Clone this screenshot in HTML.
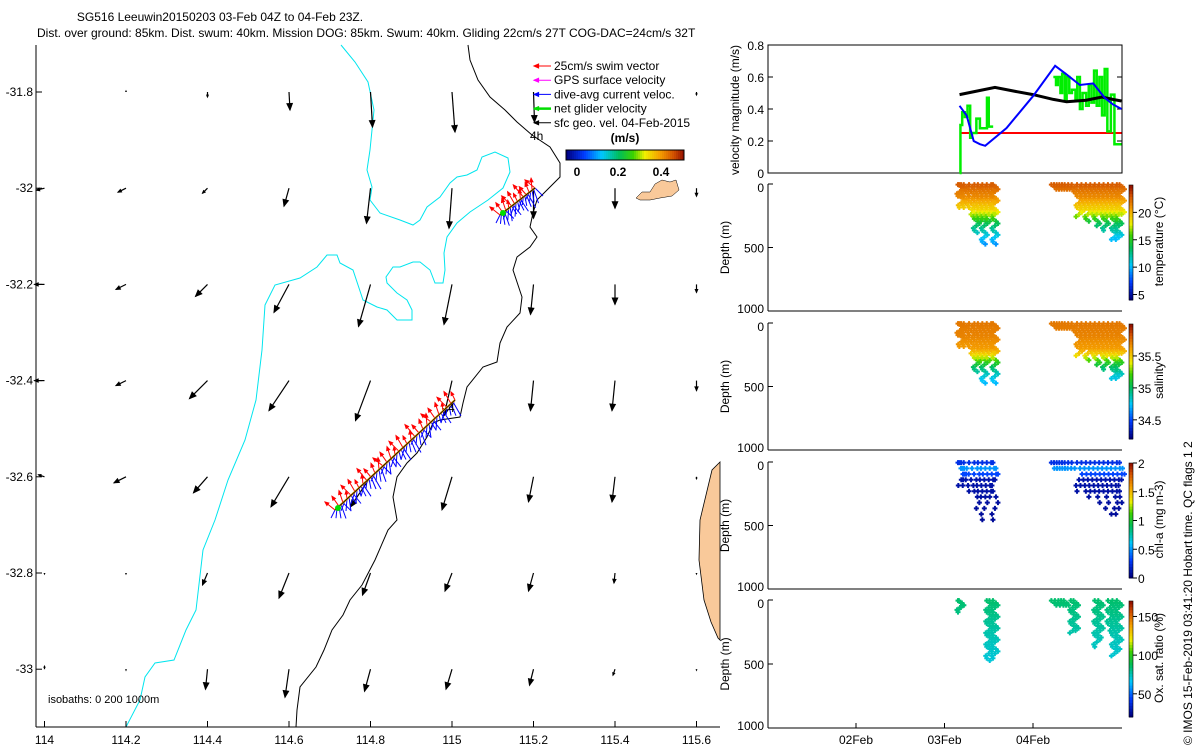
<!DOCTYPE html>
<html><head><meta charset="utf-8"><style>
body{margin:0;background:#fff}
svg{display:block;font-family:"Liberation Sans",sans-serif}
</style></head><body>
<svg id="s" width="1200" height="750" viewBox="0 0 1200 750" xmlns="http://www.w3.org/2000/svg">
<rect width="1200" height="750" fill="#fff"/>
<text x="220" y="21" font-size="12" text-anchor="middle">SG516 Leeuwin20150203 03-Feb 04Z to 04-Feb 23Z.</text>
<text x="37" y="37" font-size="12">Dist. over ground: 85km. Dist. swum: 40km. Mission DOG: 85km. Swum: 40km. Gliding 22cm/s 27T COG-DAC=24cm/s 32T</text>
<g id="map"></g>
<g id="right"></g>
<text transform="translate(1192,745) rotate(-90)" font-size="12">© IMOS 15-Feb-2019 03:41:20 Hobart time. QC flags 1   2</text>
</svg>
<script>
// ---------- data ----------
const lonTicks=[114,114.2,114.4,114.6,114.8,115,115.2,115.4,115.6];
const latTicks=[-31.8,-32,-32.2,-32.4,-32.6,-32.8,-33];
const geoU=[
[0,0,0,1,2,3,1,0,0],
[-8,-8,-5,-5,-4,-3,0,0,0],
[-10,-10,-12,-15,-12,-8,-3,0,0],
[-10,-10,-18,-20,-15,-8,-3,-3,0],
[-6,-12,-14,-18,-20,-10,-5,-3,0],
[0,0,-5,-10,-8,-7,-5,-1,0],
[0,0,-2,-4,-6,-6,-4,-2,0]];
const geoV=[
[0,-1,5,18,35,40,30,0,3],
[2,4,5,18,35,40,30,20,8],
[0,5,12,28,42,40,30,20,8],
[0,5,18,30,40,35,30,30,10],
[-2,6,16,30,30,33,25,25,2],
[1,1,12,25,22,18,18,10,1],
[-3,1,20,28,22,20,16,6,1]];
const cyanLine=[[341,45],[355,62],[368,82],[374,110],[370,150],[367,170],[372,187],[370,200],[380,213],[400,220],[413,225],[420,220],[427,207],[440,197],[450,183],[457,177],[467,175],[477,170],[482,157],[495,152],[508,158],[510,172],[503,188],[488,200],[470,212],[457,223],[447,237],[444,253],[445,270],[443,283],[435,283],[430,270],[420,262],[413,262],[400,267],[393,267],[386,277],[387,283],[397,293],[407,300],[412,310],[412,320],[397,320],[387,310],[377,307],[363,300],[353,270],[340,263],[337,255],[327,255],[317,267],[300,278],[275,285],[265,305],[262,350],[256,400],[245,440],[228,480],[215,520],[203,550],[196,610],[186,630],[174,660],[155,663],[145,677],[140,700],[126,727]];
const blackLine=[[468,45],[470,60],[478,80],[490,97],[505,110],[517,122],[532,135],[550,147],[560,163],[560,177],[547,190],[537,200],[533,213],[530,227],[537,237],[530,247],[517,257],[513,270],[522,297],[520,313],[507,327],[500,343],[497,362],[483,367],[467,387],[463,403],[460,417],[440,420],[433,423],[427,437],[417,453],[407,463],[397,477],[393,497],[397,520],[388,530],[375,560],[362,585],[350,600],[343,615],[332,630],[324,650],[316,667],[300,687],[297,710],[296,727]];
const landRight=[[720,462],[712,470],[706,495],[700,520],[699,560],[704,600],[711,622],[718,638],[720,640]];
const island=[[636,198],[642,192],[650,192],[655,184],[662,180],[670,182],[676,180],[679,190],[672,196],[660,198],[650,200],[640,200]];
const track1=[[500,215],[535,188]];
const track2=[[335,510],[455,400]];
const blkT=[1.17,1.35,1.57,1.8,2.0,2.23,2.38,2.6,2.78,2.9,3.0];
const blkV=[0.49,0.51,0.535,0.51,0.49,0.46,0.445,0.455,0.475,0.46,0.45];
const bluT=[1.17,1.25,1.33,1.40,1.46,1.7,2.0,2.25,2.37,2.53,2.68,2.81,2.9,3.0];
const bluV=[0.42,0.36,0.2,0.18,0.17,0.28,0.48,0.67,0.62,0.55,0.56,0.47,0.43,0.40];
const redT=[1.17,3.0];
const redV=[0.25,0.25];
const grnT1=[1.17,1.18,1.2,1.23,1.26,1.29,1.31,1.36,1.40,1.48,1.50,1.55];
const grnV1=[0,0.3,0.38,0.35,0.42,0.22,0.25,0.34,0.28,0.47,0.29,0.29];
const grnT2=[2.23,2.26,2.28,2.31,2.33,2.36,2.38,2.41,2.44,2.48,2.50,2.53,2.56,2.60,2.63,2.66,2.69,2.72,2.75,2.78,2.81,2.84,2.88,2.92,2.96,3.0];
const grnV2=[0.6,0.55,0.6,0.5,0.62,0.46,0.6,0.5,0.52,0.46,0.6,0.4,0.5,0.42,0.55,0.44,0.64,0.42,0.6,0.36,0.65,0.26,0.49,0.18,0.18,0.18];
const diveT=[1.175,1.19,1.21,1.24,1.30,1.36,1.40,1.45,1.50,1.55,1.57,2.23,2.26,2.29,2.32,2.35,2.38,2.42,2.46,2.52,2.57,2.62,2.67,2.72,2.77,2.82,2.87,2.92,2.97,3.0];
const diveD=[100,200,150,200,250,400,300,480,300,250,480,50,50,50,50,50,50,50,60,270,220,300,250,330,250,380,260,450,440,250];
const profZ=[0,100,200,250,300,350,400,480];
const tempP=[23,21.5,19,17,14,12.5,11,9];
const salP=[35.75,35.72,35.65,35.5,35.2,35.0,34.85,34.7];
const chlZ=[0,40,80,120,500];
const chlP=[0.2,0.5,0.45,0.1,0.05];
const oxyZ=[0,100,300,480];
const oxyP=[85,82,75,70];
const oxyDiveT=[1.175,1.185,1.50,1.53,1.57,2.23,2.27,2.31,2.34,2.37,2.45,2.48,2.72,2.76,2.87,2.92,2.97];
const oxyDiveD=[100,80,480,400,470,50,50,50,50,50,270,250,380,300,250,450,400];

// ---------- helpers ----------
const NS="http://www.w3.org/2000/svg";
function mk(tag,attrs,parent){const e=document.createElementNS(NS,tag);for(const k in attrs)e.setAttribute(k,attrs[k]);parent.appendChild(e);return e;}
const CM=[[0,[0,0,128]],[0.15,[0,60,255]],[0.3,[0,200,255]],[0.45,[0,190,90]],[0.57,[60,210,0]],[0.67,[240,240,0]],[0.8,[245,160,0]],[0.92,[210,80,0]],[1,[150,20,0]]];
function jet(f){f=Math.max(0,Math.min(1,f));for(let i=1;i<CM.length;i++){if(f<=CM[i][0]){const a=CM[i-1],b=CM[i],t=(f-a[0])/(b[0]-a[0]);const c=a[1].map((v,k)=>Math.round(v+(b[1][k]-v)*t));return `rgb(${c})`;}}return 'rgb(150,20,0)';}
function interp(xs,ys,x){if(x<=xs[0])return ys[0];for(let i=1;i<xs.length;i++){if(x<=xs[i]){const f=(x-xs[i-1])/(xs[i]-xs[i-1]);return ys[i-1]+f*(ys[i]-ys[i-1]);}}return ys[ys.length-1];}
const pts=a=>a.map(p=>p.join(',')).join(' ');

// ---------- map ----------
const map=document.getElementById('map');
const X=lon=>44.5+(lon-114)*407.5;
const Y=lat=>92+(-31.8-lat)*481;
let e;
e=mk('polygon',{points:pts(landRight),fill:'#f9c99a',stroke:'#000','stroke-width':0.8},map);


e=mk('polygon',{points:pts(island),fill:'#f9c99a',stroke:'#000','stroke-width':0.5},map);


e=mk('polyline',{points:pts(cyanLine),fill:'none',stroke:'#00e5ee','stroke-width':1},map);


e=mk('polyline',{points:pts(blackLine),fill:'none',stroke:'#000','stroke-width':1},map);


mk('line',{x1:36,y1:45,x2:36,y2:727,stroke:'#000'},map);
mk('line',{x1:36,y1:727,x2:720,y2:727,stroke:'#000'},map);
lonTicks.forEach(l=>{mk('line',{x1:X(l),y1:727,x2:X(l),y2:721,stroke:'#000'},map);
 e=mk('text',{x:X(l),y:744,'font-size':12,'text-anchor':'middle'},map);e.textContent=l;
 
 });
latTicks.forEach(l=>{mk('line',{x1:36,y1:Y(l),x2:42,y2:Y(l),stroke:'#000'},map);
 e=mk('text',{x:33,y:Y(l)+4,'font-size':12,'text-anchor':'end'},map);e.textContent=l;
 
 });
function arrow(x1,y1,x2,y2,col,w,hs,parent){mk('line',{x1,y1,x2,y2,stroke:col,'stroke-width':w},parent);
 const a=Math.atan2(y2-y1,x2-x1),L=Math.hypot(x2-x1,y2-y1);if(L<1)return;const h=Math.min(hs,L*0.4);
 mk('polygon',{points:`${x2},${y2} ${x2-h*Math.cos(a-0.4)},${y2-h*Math.sin(a-0.4)} ${x2-h*Math.cos(a+0.4)},${y2-h*Math.sin(a+0.4)}`,fill:col,stroke:col},parent);}
latTicks.forEach((la,i)=>lonTicks.forEach((lo,j)=>{
 const g=mk('g',{},map);
 
 
 arrow(X(lo),Y(la),X(lo)+geoU[i][j],Y(la)+geoV[i][j],'#000',1.2,7,g);}));
function trackGroup(tr,n){const g=mk('g',{},map);
 
 
 const [a,b]=tr;
 for(let k=0;k<=n*2;k++){const f=k/(n*2),x=a[0]+(b[0]-a[0])*f,y=a[1]+(b[1]-a[1])*f;
  mk('line',{x1:x,y1:y,x2:x-4+(k%5)*3,y2:y+8+(k%4)*2,stroke:'#0000ff','stroke-width':1},g);}
 for(let k=0;k<=n;k++){const f=k/n,x=a[0]+(b[0]-a[0])*f,y=a[1]+(b[1]-a[1])*f;
  arrow(x,y,x-10+(k%4)*3,y-8-(k%3)*2,'#ff0000',1,4,g);}
 mk('line',{x1:a[0],y1:a[1],x2:b[0],y2:b[1],stroke:'#f0a000','stroke-width':2},g);
 mk('line',{x1:a[0],y1:a[1],x2:b[0],y2:b[1],stroke:'#000','stroke-width':0.8},g);
 mk('circle',{cx:a[0]+3,cy:a[1]-2,r:3,fill:'#00dd00'},g);}
trackGroup(track1,12);trackGroup(track2,30);
e=mk('text',{x:448,y:412,'font-size':12},map);e.textContent='4';
e=mk('text',{x:530,y:140,'font-size':12},map);e.textContent='4h';
e=mk('text',{x:48,y:703,'font-size':11},map);e.textContent='isobaths: 0   200  1000m';


const legCols=['#ff0000','#ff00ff','#0000ff','#00dd00','#000'];
const legTxt=['25cm/s swim vector','GPS surface velocity','dive-avg current veloc.','net glider velocity','sfc geo. vel. 04-Feb-2015'];
legTxt.forEach((t,i)=>{const g=mk('g',{},map);
 
 
 const y=66+i*14.2;arrow(551,y,534,y,legCols[i],i==3?2.5:1,5,g);
 e=mk('text',{x:554,y:y+4,'font-size':12},g);e.textContent=t;});
const cb=mk('g',{},map);


for(let i=0;i<59;i++)mk('rect',{x:566+i*2,y:150,width:2.2,height:10,fill:jet(i/58)},cb);
mk('rect',{x:566,y:150,width:118,height:10,fill:'none',stroke:'#000'},cb);
e=mk('text',{x:625,y:142,'font-size':12,'font-weight':'bold','text-anchor':'middle'},cb);e.textContent='(m/s)';
[[0,577],[0.2,618],[0.4,661]].forEach(([v,x])=>{e=mk('text',{x,y:176,'font-size':12,'font-weight':'bold','text-anchor':'middle'},cb);e.textContent=v;});

// ---------- right panels ----------
const R=document.getElementById('right');
const TX=t=>856+t*88.5;
const L=768,Rr=1122;
const vp={top:45,bot:173};
const VY=v=>vp.bot-v/0.8*(vp.bot-vp.top);
mk('rect',{x:L,y:vp.top,width:Rr-L,height:vp.bot-vp.top,fill:'none',stroke:'#000'},R);
[0,0.2,0.4,0.6,0.8].forEach(v=>{mk('line',{x1:L,y1:VY(v),x2:L+5,y2:VY(v),stroke:'#000'},R);mk('line',{x1:Rr,y1:VY(v),x2:Rr-5,y2:VY(v),stroke:'#000'},R);
 e=mk('text',{x:764,y:VY(v)+5,'font-size':12,'text-anchor':'end'},R);e.textContent=v;});
e=mk('text',{transform:'translate(739,110) rotate(-90)','font-size':12,'text-anchor':'middle'},R);e.textContent='velocity magnitude (m/s)';


function line(T,V,col,w,name,step){let p=[];T.forEach((t,i)=>{if(step&&i>0)p.push([TX(t),VY(V[i-1])]);p.push([TX(t),VY(V[i])]);});
 const el=mk('polyline',{points:pts(p),fill:'none',stroke:col,'stroke-width':w},R);
 
 }
line(redT,redV,'#ff0000',2,'swim-speed-line');
line(grnT1,grnV1,'#00ee00',2.5,'glider-speed-line',true);
line(grnT2,grnV2,'#00ee00',2.5,'glider-speed-line',true);
line(blkT,blkV,'#000',3,'geo-speed-line');
line(bluT,bluV,'#0000ff',2,'current-speed-line');
const panels=[
 {top:184,bot:311,name:'temperature-panel',label:'temperature (°C)',vmin:4,vmax:25,ticks:[5,10,15,20],dT:diveT,dD:diveD,z:profZ,p:tempP,step:18},
 {top:323,bot:450,name:'salinity-panel',label:'salinity',vmin:34.2,vmax:36,ticks:[34.5,35,35.5],dT:diveT,dD:diveD,z:profZ,p:salP,step:18},
 {top:462,bot:589,name:'chlorophyll-panel',label:'chl-a (mg m-3)',vmin:0,vmax:2,ticks:[0,0.5,1,1.5,2],dT:diveT,dD:diveD,z:chlZ,p:chlP,step:45},
 {top:600,bot:728,name:'oxygen-panel',label:'Ox. sat. ratio (%)',vmin:20,vmax:170,ticks:[50,100,150],dT:oxyDiveT,dD:oxyDiveD,z:oxyZ,p:oxyP,step:18}];
panels.forEach((P,pi)=>{const g=mk('g',{},R);
 
 
 const DY=d=>P.top+d/1000*(P.bot-P.top);
 mk('line',{x1:L,y1:P.top,x2:L,y2:P.bot,stroke:'#000'},g);
 mk('line',{x1:L,y1:P.bot,x2:Rr,y2:P.bot,stroke:'#000'},g);
 [0,500,1000].forEach(d=>{mk('line',{x1:L,y1:DY(d),x2:L+5,y2:DY(d),stroke:'#000'},g);
  e=mk('text',{x:764,y:DY(d)+(d==0?8:d==1000?2:5),'font-size':12,'text-anchor':'end'},g);e.textContent=d;});
 e=mk('text',{transform:`translate(729,${(P.top+P.bot)/2}) rotate(-90)`,'font-size':12,'text-anchor':'middle'},g);e.textContent='Depth (m)';
 P.dT.forEach((t,i)=>{let k=0;for(let d=5;d<=P.dD[i];d+=P.step,k++){const v=interp(P.z,P.p,d);const c=jet((v-P.vmin)/(P.vmax-P.vmin));
  const x=TX(t)+[-2,1,3,0,-3][k%5],y=DY(d);
  mk('path',{d:`M${x-2.5},${y}h5M${x},${y-2.5}v5`,stroke:c,'stroke-width':2},g);}});
 const cb=mk('g',{},g);
 
 
 const ct=P.top+1,cbH=(P.bot-P.top)-12;
 for(let i=0;i<40;i++)mk('rect',{x:1129,y:ct+cbH-(i+1)*cbH/40,width:4,height:cbH/40+0.5,fill:jet(i/39)},cb);
 mk('rect',{x:1129,y:ct,width:4,height:cbH,fill:'none',stroke:'#000','stroke-width':0.6},cb);
 P.ticks.forEach(v=>{const y=ct+cbH-(v-P.vmin)/(P.vmax-P.vmin)*cbH;mk('line',{x1:1133,y1:y,x2:1137,y2:y,stroke:'#000'},cb);
  e=mk('text',{x:1138,y:y+5,'font-size':12},cb);e.textContent=v;});
 e=mk('text',{transform:`translate(1163,${P.top+cbH/2}) rotate(-90)`,'font-size':12,'text-anchor':'middle'},cb);e.textContent=P.label;
});
[['02Feb',1],['03Feb',2],['04Feb',3]].forEach(([s,t])=>{const x=TX(t-1);
 mk('line',{x1:x,y1:728,x2:x,y2:723,stroke:'#000'},R);
 e=mk('text',{x,y:744,'font-size':12,'text-anchor':'middle'},R);e.textContent=s;
 
 });
</script>
</body></html>
